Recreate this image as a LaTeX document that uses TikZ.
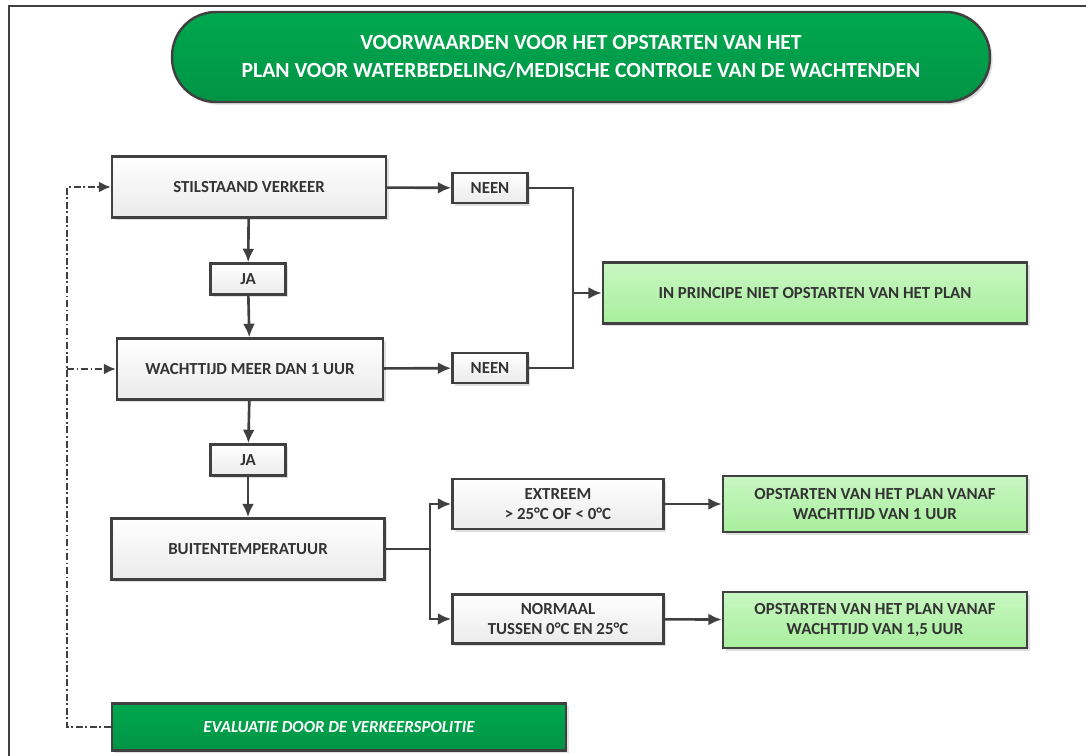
\documentclass[tikz,border=0pt]{standalone}
\usepackage{fontspec}
\setmainfont{Carlito}
\usepackage{tikz}
\usetikzlibrary{shadows,arrows.meta}

\definecolor{lijn}{HTML}{404040}
\definecolor{groen}{HTML}{00A84F}
\definecolor{groendonker}{HTML}{009445}
\definecolor{lichtgroen}{HTML}{C8F7C2}
\definecolor{lichtgroenb}{HTML}{A9EE9E}

\tikzset{
  vak/.style={draw=lijn, line width=1.4pt, top color=white, bottom color=black!8,
    font=\fontsize{9.6}{11.5}\selectfont\bfseries, text=black!80, align=center,
    drop shadow={opacity=0.25, shadow xshift=1.5pt, shadow yshift=-1.5pt}},
  resvak/.style={vak, top color=lichtgroen, bottom color=lichtgroenb},
  groenvak/.style={draw=lijn, line width=1.4pt, top color=groen, bottom color=groendonker,
    text=white, align=center,
    drop shadow={opacity=0.25, shadow xshift=1.5pt, shadow yshift=-1.5pt}},
  pijl/.style={draw=lijn, line width=1.5pt, -{Latex[length=0.27cm,width=0.24cm]}},
  verbind/.style={draw=lijn, line width=1.5pt},
  terug/.style={draw=lijn, line width=1.1pt, dash pattern=on 4pt off 1.5pt on 1pt off 1.5pt,
    -{Latex[length=0.24cm,width=0.22cm]}}
}

\begin{document}
\begin{tikzpicture}[x=0.02cm,y=-0.02cm]
  \useasboundingbox (0,0) rectangle (1086,756);
  %% page frame
  \draw[lijn, line width=1.5pt] (9,756) -- (9,6) -- (1086,6);

  %% title
  \node[groenvak, minimum width=16.36cm, minimum height=1.8cm, rounded corners=0.88cm,
        font=\fontsize{12.3}{16}\selectfont\bfseries] (TITEL) at (581,57)
    {VOORWAARDEN VOOR HET OPSTARTEN VAN HET\\PLAN VOOR WATERBEDELING/MEDISCHE CONTROLE VAN DE WACHTENDEN};

  %% main column
  \node[vak, minimum width=5.48cm, minimum height=1.22cm] (STIL)   at (249,187) {STILSTAAND VERKEER};
  \node[vak, minimum width=1.5cm,  minimum height=0.62cm] (JA1)    at (248,279) {JA};
  \node[vak, minimum width=5.32cm, minimum height=1.22cm] (WACHT)  at (250,369) {WACHTTIJD MEER DAN 1 UUR};
  \node[vak, minimum width=1.5cm,  minimum height=0.62cm] (JA2)    at (248,460) {JA};
  \node[vak, minimum width=5.46cm, minimum height=1.22cm] (BUITEN) at (248,549) {BUITENTEMPERATUUR};

  %% answers no
  \node[vak, minimum width=1.5cm, minimum height=0.6cm] (NEEN1) at (490,188) {NEEN};
  \node[vak, minimum width=1.5cm, minimum height=0.6cm] (NEEN2) at (490,368) {NEEN};
  \node[resvak, minimum width=8.48cm, minimum height=1.22cm] (PLAN) at (815,293) {IN PRINCIPE NIET OPSTARTEN VAN HET PLAN};

  %% temperature branches
  \node[vak, minimum width=4.22cm, minimum height=1.0cm] (EXTR) at (558,504) {EXTREEM\\> 25°C OF < 0°C};
  \node[vak, minimum width=4.22cm, minimum height=0.98cm] (NORM) at (558,619) {NORMAAL\\TUSSEN 0°C EN 25°C};
  \node[resvak, minimum width=6.08cm, minimum height=1.12cm] (RES1) at (875,504) {OPSTARTEN VAN HET PLAN VANAF\\WACHTTIJD VAN 1 UUR};
  \node[resvak, minimum width=6.08cm, minimum height=1.12cm] (RES2) at (875,620) {OPSTARTEN VAN HET PLAN VANAF\\WACHTTIJD VAN 1,5 UUR};

  %% evaluation
  \node[groenvak, minimum width=9.08cm, minimum height=0.94cm,
        font=\fontsize{9.6}{11.5}\selectfont\bfseries\itshape] (EVAL) at (339,727) {EVALUATIE DOOR DE VERKEERSPOLITIE};

  %% helper points
  \coordinate (MERGE) at (573,293);
  \coordinate (SPLIT) at (430,549);
  \coordinate (TERUG) at (67,187);

  %% connectors
  \path[pijl] (STIL) -- (JA1);
  \path[pijl] (JA1) -- (WACHT);
  \path[pijl] (WACHT) -- (JA2);
  \path[pijl] (JA2) -- (BUITEN);
  \path[pijl] (STIL) -- (NEEN1);
  \path[pijl] (WACHT) -- (NEEN2);
  \path[verbind] (NEEN1.east) -| (MERGE);
  \path[verbind] (NEEN2.east) -| (MERGE);
  \path[pijl] (MERGE) -- (PLAN.west);
  \path[verbind] (BUITEN.east) -- (SPLIT);
  \path[pijl] (SPLIT) |- (EXTR.west);
  \path[pijl] (SPLIT) |- (NORM.west);
  \path[pijl] (EXTR) -- (RES1);
  \path[pijl] (NORM) -- (RES2);

  %% feedback from evaluation
  \path[terug] (EVAL.west) -| (TERUG) -- (STIL.west);
  \path[terug] (TERUG |- WACHT.west) -- (WACHT.west);
\end{tikzpicture}
\end{document}
